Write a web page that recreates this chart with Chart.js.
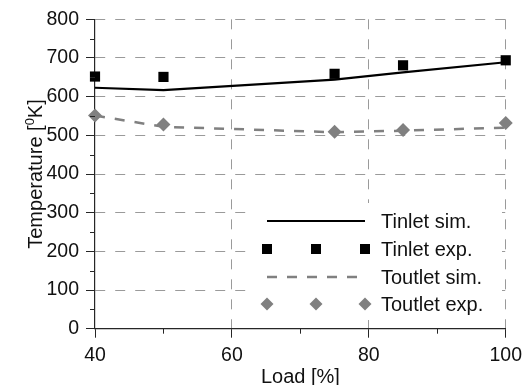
<!DOCTYPE html>
<html>
<head>
<meta charset="utf-8">
<script src="https://cdn.jsdelivr.net/npm/chart.js@4/dist/chart.umd.min.js"></script>
<style>
  html, body { margin: 0; padding: 0; background: #fff; }
  #wrap { width: 528px; height: 385px; }
</style>
</head>
<body>
<div id="wrap"><canvas id="chart" width="528" height="385"></canvas></div>
<script>
// Engine load (%) at the measured operating points
const loads = [40, 50, 75, 85, 100];
// Inlet temperature, simulated and measured (K)
const tinletSim = [623, 617, 644, 663, 689];
const tinletExp = [652, 651, 659, 681, 694];
// Outlet temperature, simulated and measured (K)
const toutletSim = [551, 522, 508, 512, 520];
const toutletExp = [551, 528, 509, 514, 532];

const seriesNames = ['Tinlet sim.', 'Tinlet exp.', 'Toutlet sim.', 'Toutlet exp.'];
const yTicks = [0, 100, 200, 300, 400, 500, 600, 700, 800];
const xTicks = [40, 60, 80, 100];
const yMinorTicks = [50, 150, 250, 350, 450, 550, 650, 750];
const xMinorTicks = [50, 70, 90];

const FONT = 'Liberation Sans, Arial, Helvetica, sans-serif';
const AXIS = '#262626';
const GRID = '#9a9a9a';
const GREY = '#808080';

const pts = (ys) => loads.map((x, i) => ({ x: x, y: ys[i] }));

// Minor tick marks, axis titles (with superscript) and the in-plot legend
const decorations = {
  id: 'decorations',
  afterDraw(chart) {
    const { ctx, chartArea: a, scales: { x, y } } = chart;
    ctx.save();
    // minor ticks
    ctx.strokeStyle = AXIS;
    ctx.lineWidth = 1;
    ctx.beginPath();
    yMinorTicks.forEach(v => {
      const py = Math.round(y.getPixelForValue(v)) + 0.5;
      ctx.moveTo(a.left - 5, py); ctx.lineTo(a.left, py);
    });
    xMinorTicks.forEach(v => {
      const px = Math.round(x.getPixelForValue(v)) + 0.5;
      ctx.moveTo(px, a.bottom); ctx.lineTo(px, a.bottom + 5);
    });
    ctx.stroke();

    // x title
    ctx.fillStyle = '#111';
    ctx.font = '20px ' + FONT;
    ctx.textAlign = 'center';
    ctx.textBaseline = 'alphabetic';
    ctx.fillText('Load [%]', (a.left + a.right) / 2, 383);

    // y title: Temperature [⁰K]
    const big = '20px ' + FONT, small = '13px ' + FONT;
    const p1 = 'Temperature [', p2 = '0', p3 = 'K]';
    ctx.font = big; const w1 = ctx.measureText(p1).width, w3 = ctx.measureText(p3).width;
    ctx.font = small; const w2 = ctx.measureText(p2).width;
    const total = w1 + w2 + w3;
    ctx.translate(42, (a.top + a.bottom) / 2);
    ctx.rotate(-Math.PI / 2);
    ctx.textAlign = 'left';
    let cx = -total / 2;
    ctx.font = big; ctx.fillText(p1, cx, 0); cx += w1;
    ctx.font = small; ctx.fillText(p2, cx, -8); cx += w2;
    ctx.font = big; ctx.fillText(p3, cx, 0);
    ctx.restore();
  },
  afterDatasetsDraw(chart) {
    const { ctx } = chart;
    const ds = chart.data.datasets;
    ctx.save();
    ctx.fillStyle = '#fff';
    ctx.fillRect(254, 203, 248, 117);
    const x0 = 267, x1 = 365, xm = 316, tx = 381;
    const rows = [221, 249, 277, 304];
    // Tinlet sim. line
    ctx.strokeStyle = ds[0].borderColor; ctx.lineWidth = ds[0].borderWidth;
    ctx.beginPath(); ctx.moveTo(x0, rows[0]); ctx.lineTo(x1, rows[0]); ctx.stroke();
    // Tinlet exp. squares
    ctx.fillStyle = ds[1].pointBackgroundColor;
    [x0, xm, x1].forEach(px => ctx.fillRect(px - 5, rows[1] - 5, 10, 10));
    // Toutlet sim. dashed line
    ctx.strokeStyle = ds[2].borderColor; ctx.lineWidth = ds[2].borderWidth;
    ctx.setLineDash(ds[2].borderDash);
    ctx.beginPath(); ctx.moveTo(x0, rows[2]); ctx.lineTo(361, rows[2]); ctx.stroke();
    ctx.setLineDash([]);
    // Toutlet exp. diamonds
    ctx.fillStyle = ds[3].pointBackgroundColor;
    [x0, xm, x1].forEach(px => {
      const r = 6.5;
      ctx.beginPath();
      ctx.moveTo(px, rows[3] - r); ctx.lineTo(px + r, rows[3]);
      ctx.lineTo(px, rows[3] + r); ctx.lineTo(px - r, rows[3]);
      ctx.closePath(); ctx.fill();
    });
    // labels
    ctx.fillStyle = '#111';
    ctx.font = '20px ' + FONT;
    ctx.textAlign = 'left';
    ctx.textBaseline = 'middle';
    seriesNames.forEach((n, i) => ctx.fillText(n, tx, rows[i] + 1));
    ctx.restore();
  }
};

new Chart(document.getElementById('chart'), {
  type: 'line',
  data: {
    datasets: [
      { label: seriesNames[0], data: pts(tinletSim), borderColor: '#000', borderWidth: 2.2,
        pointRadius: 0, fill: false, tension: 0, clip: false },
      { label: seriesNames[1], data: pts(tinletExp), showLine: false, pointStyle: 'rect',
        pointRadius: 7.2, pointBorderWidth: 0, pointBackgroundColor: '#000', borderColor: '#000',
        clip: false },
      { label: seriesNames[2], data: pts(toutletSim), borderColor: GREY, borderWidth: 2.5,
        borderDash: [10, 10], pointRadius: 0, fill: false, tension: 0, clip: false },
      { label: seriesNames[3], data: pts(toutletExp), showLine: false, pointStyle: 'rectRot',
        pointRadius: 7, pointBorderWidth: 0, pointBackgroundColor: GREY, borderColor: GREY,
        clip: false }
    ]
  },
  options: {
    responsive: false,
    animation: false,
    devicePixelRatio: 1,
    layout: { padding: { left: 0, top: 19.3, right: 21, bottom: 0 } },
    plugins: { legend: { display: false }, tooltip: { enabled: false } },
    scales: {
      x: {
        type: 'linear', min: 40, max: 100,
        afterBuildTicks: s => { s.ticks = xTicks.map(v => ({ value: v })); },
        afterFit: s => { s.height = 56.3; },
        ticks: { color: '#111', font: { family: FONT, size: 19.5 }, padding: 6 },
        grid: {
          color: c => (c.tick && c.tick.value === 40) ? 'rgba(0,0,0,0)' : GRID,
          lineWidth: 1, tickLength: 9, tickColor: AXIS, tickWidth: 1
        },
        border: { display: true, color: AXIS, width: 1.2, dash: [10, 10] }
      },
      y: {
        type: 'linear', min: 0, max: 800,
        afterBuildTicks: s => { s.ticks = yTicks.map(v => ({ value: v })); },
        afterFit: s => { s.width = 95; },
        ticks: { color: '#111', font: { family: FONT, size: 19.5 }, padding: 7 },
        grid: {
          color: c => (c.tick && c.tick.value === 0) ? 'rgba(0,0,0,0)' : GRID,
          lineWidth: 1, tickLength: 9, tickColor: AXIS, tickWidth: 1
        },
        border: { display: true, color: AXIS, width: 1.2, dash: [10, 10] }
      }
    }
  },
  plugins: [decorations]
});
</script>
</body>
</html>
